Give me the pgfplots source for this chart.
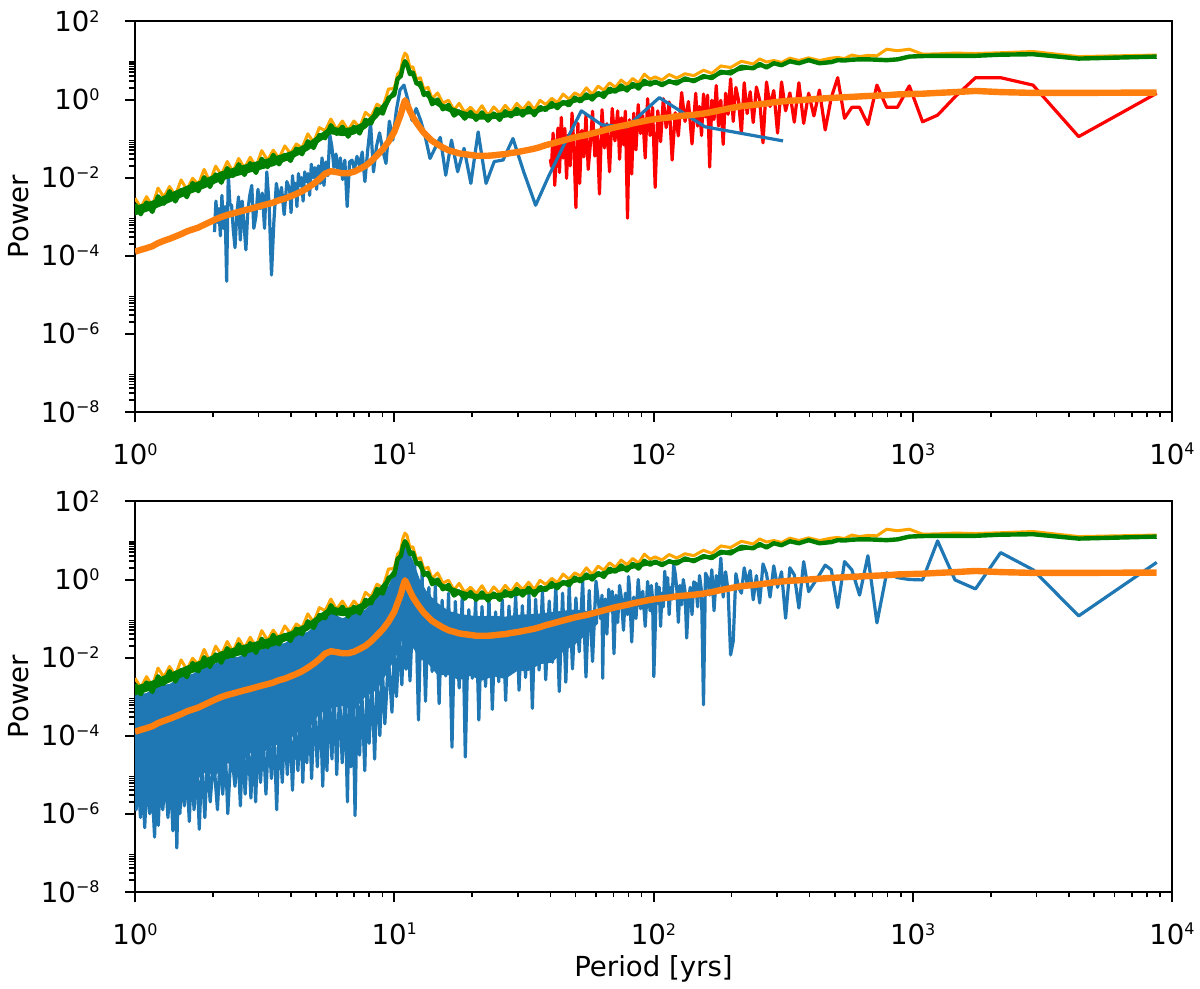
\documentclass[border=0pt]{standalone}
\usepackage{fontspec}
\setmainfont{DejaVu Sans}
\usepackage{pgfplots}
\pgfplotsset{compat=1.18}
\usepackage{pgfplotstable}
\definecolor{tabblue}{HTML}{1F77B4}
\definecolor{taborange}{HTML}{FF7F0E}
\definecolor{mplorange}{HTML}{FFA500}
\definecolor{mplgreen}{HTML}{008000}
\definecolor{mplred}{HTML}{FF0000}
\newcommand{\logtick}[1]{\pgfmathtruncatemacro\myexp{round(#1)}10\raisebox{4.6pt}{\fontsize{8}{8}\selectfont\ifnum\myexp<0 −\number-\myexp\else\myexp\fi}}

\pgfplotstableread{
x O G T
1.00 1.26e-4 2.09e-3 2.96e-3
1.053 1.41e-4 1.15e-3 1.70e-3
1.108 1.55e-4 2.29e-3 3.24e-3
1.166 1.74e-4 1.32e-3 1.86e-3
1.227 2.09e-4 3.31e-3 5.38e-3
1.292 2.40e-4 2.14e-3 3.16e-3
1.359 2.69e-4 4.47e-3 5.90e-3
1.431 3.09e-4 2.45e-3 3.47e-3
1.506 3.55e-4 4.79e-3 8.73e-3
1.585 4.17e-4 3.16e-3 4.91e-3
1.668 4.68e-4 7.24e-3 9.57e-3
1.756 5.25e-4 4.47e-3 6.61e-3
1.848 6.17e-4 1.02e-2 1.62e-2
1.945 7.24e-4 5.75e-3 7.77e-3
2.047 8.51e-4 1.20e-2 1.96e-2
2.154 9.77e-4 7.41e-3 1.17e-2
2.268 1.10e-3 1.74e-2 2.58e-2
2.387 1.20e-3 1.10e-2 1.41e-2
2.512 1.32e-3 2.19e-2 3.09e-2
2.644 1.45e-3 1.17e-2 1.74e-2
2.783 1.58e-3 2.34e-2 3.31e-2
2.929 1.74e-3 1.32e-2 1.86e-2
3.083 1.91e-3 3.02e-2 4.91e-2
3.245 2.09e-3 1.86e-2 2.76e-2
3.415 2.29e-3 3.80e-2 5.03e-2
3.594 2.63e-3 2.19e-2 3.09e-2
3.783 2.88e-3 3.80e-2 6.46e-2
3.981 3.31e-3 2.69e-2 4.08e-2
4.190 3.80e-3 5.50e-2 7.26e-2
4.410 4.47e-3 3.98e-2 5.76e-2
4.642 5.50e-3 8.51e-2 1.32e-1
4.885 6.92e-3 5.75e-2 7.96e-2
5.142 9.12e-3 1.23e-1 1.91e-1
5.412 1.26e-2 1.02e-1 1.59e-1
5.696 1.45e-2 2.19e-1 3.16e-1
5.995 1.38e-2 1.32e-1 1.70e-1
6.310 1.29e-2 2.00e-1 2.82e-1
6.641 1.29e-2 1.12e-1 1.62e-1
6.990 1.41e-2 2.00e-1 2.82e-1
7.356 1.66e-2 1.35e-1 1.91e-1
7.743 2.00e-2 3.02e-1 4.68e-1
8.149 2.63e-2 2.45e-1 3.55e-1
8.577 3.72e-2 5.75e-1 7.60e-1
9.027 5.25e-2 4.37e-1 6.18e-1
9.501 8.32e-2 1.10 1.86
10.0 1.48e-1 1.32 1.91
10.3 2.51e-1 3.39 4.47
10.6 4.17e-1 3.98 5.64
10.8 6.61e-1 7.08 11.5
11.0 9.55e-1 9.55 15.5
11.2 7.59e-1 7.94 13.5
11.5 5.01e-1 4.47 6.61
11.8 3.55e-1 4.90 6.93
12.2 2.51e-1 2.51 3.24
12.6 1.86e-1 2.63 3.63
13.0 1.41e-1 1.32 1.86
13.5 1.10e-1 1.48 2.05
14.0 8.71e-2 7.59e-1 1.05
14.7 7.08e-2 1.00 1.48
15.4 5.89e-2 5.62e-1 8.14e-1
16.2 5.01e-2 7.24e-1 9.57e-1
17.0 4.57e-2 3.89e-1 5.38e-1
17.8 4.17e-2 4.90e-1 7.96e-1
18.7 3.98e-2 3.24e-1 4.68e-1
19.7 3.80e-2 4.79e-1 6.33e-1
20.7 3.63e-2 3.02e-1 4.37e-1
21.8 3.63e-2 4.68e-1 6.93e-1
23.0 3.63e-2 2.88e-1 3.90e-1
24.2 3.72e-2 4.37e-1 6.46e-1
25.5 3.89e-2 3.02e-1 4.47e-1
26.8 3.98e-2 5.01e-1 7.10e-1
28.2 4.27e-2 3.72e-1 4.80e-1
29.7 4.47e-2 5.75e-1 7.96e-1
31.3 4.79e-2 3.89e-1 5.51e-1
33.0 5.13e-2 6.17e-1 8.52e-1
34.7 5.50e-2 3.98e-1 5.51e-1
36.5 6.03e-2 6.46e-1 9.57e-1
38.4 6.76e-2 5.37e-1 7.43e-1
40.5 7.41e-2 8.13e-1 1.07
42.6 8.13e-2 6.03e-1 8.33e-1
44.8 8.91e-2 8.71e-1 1.38
47.2 9.77e-2 7.08e-1 1.02
49.7 1.07e-1 1.12 1.48
52.3 1.15e-1 8.91e-1 1.23
55.1 1.23e-1 1.35 2.00
58.0 1.35e-1 1.00 1.35
61.1 1.48e-1 1.48 2.20
64.3 1.62e-1 1.17 1.74
67.7 1.78e-1 1.91 2.69
71.3 1.95e-1 1.58 2.05
75.0 2.09e-1 2.29 3.16
79.0 2.24e-1 1.70 2.40
83.2 2.45e-1 2.51 3.47
87.6 2.63e-1 1.91 2.63
92.2 2.82e-1 3.02 4.47
97.0 3.02e-1 2.40 3.31
101.5 3.16e-1 2.88 3.81
107.8 3.31e-1 2.34 3.16
114.9 3.47e-1 2.95 4.37
122.9 3.72e-1 2.57 3.55
132.3 3.89e-1 3.47 4.58
143.1 4.07e-1 2.95 4.08
155.9 4.37e-1 3.98 5.64
167.9 4.79e-1 3.55 4.68
181.9 5.37e-1 5.13 7.26
198.4 6.03e-1 4.68 6.61
218.3 6.76e-1 6.92 9.57
242.5 7.24e-1 6.31 8.14
256.8 7.59e-1 8.13 11.0
272.8 7.94e-1 6.61 9.13
291.0 8.51e-1 8.51 10.0
311.8 8.91e-1 7.59 8.91
335.8 9.33e-1 9.55 11.5
363.8 9.55e-1 8.51 10.0
396.8 1.00 10.2 11.7
436.5 1.05 8.51 10.0
485.0 1.10 9.12 11.5
513.5 1.12 10.2 12.0
545.6 1.15 10.0 11.2
582.0 1.17 10.5 13.8
623.6 1.20 10.7 12.6
671.5 1.23 10.7 13.5
727.5 1.26 10.5 13.2
793.6 1.29 10.2 19.5
873.0 1.35 10.7 17.8
970.0 1.38 12.6 19.5
1091 1.41 13.0 14.5
1247 1.48 13.2 14.8
1455 1.55 13.2 15.5
1746 1.66 13.2 15.1
2182 1.55 14.1 15.8
2910 1.48 14.5 17.0
4365 1.48 11.2 12.6
8730 1.51 12.6 13.8
}\shared

% green band (upper edge, then lower edge back)
\pgfplotstableread{
x y
1.00 1.86e-3
1.166 2.57e-3
1.359 3.98e-3
1.585 6.17e-3
1.848 9.12e-3
2.154 1.45e-2
2.512 1.95e-2
2.929 2.57e-2
3.415 3.39e-2
3.981 4.68e-2
4.642 7.76e-2
5.142 1.29e-1
5.696 2.04e-1
6.310 1.82e-1
6.990 2.00e-1
7.743 2.82e-1
8.577 5.25e-1
9.501 1.17
10.0 1.95
10.6 5.50
11.0 11.0
11.5 6.61
12.2 3.31
13.0 1.86
14.0 1.16
15.4 7.85e-1
17.0 6.10e-1
18.7 4.95e-1
20.7 4.32e-1
23.0 4.32e-1
25.5 4.62e-1
28.2 5.07e-1
31.3 5.69e-1
34.7 5.62e-1
38.4 6.92e-1
42.6 8.32e-1
47.2 1.00
52.3 1.17
58.0 1.38
64.3 1.66
71.3 2.00
79.0 2.29
87.6 2.69
97.0 3.09
107.8 2.88
122.9 3.24
143.1 3.55
167.9 4.37
198.4 5.89
242.5 7.41
291 8.32
291 7.59
242.5 6.17
198.4 4.90
167.9 3.63
143.1 2.95
122.9 2.69
107.8 2.40
97.0 2.34
87.6 2.04
79.0 1.74
71.3 1.51
64.3 1.26
58.0 1.05
52.3 8.91e-1
47.2 7.59e-1
42.6 6.31e-1
38.4 5.25e-1
34.7 4.27e-1
31.3 4.03e-1
28.2 3.59e-1
25.5 3.27e-1
23.0 3.05e-1
20.7 3.05e-1
18.7 3.51e-1
17.0 4.32e-1
15.4 5.56e-1
14.0 8.22e-1
13.0 1.35
12.2 2.40
11.5 4.79
11.0 7.94
10.6 3.98
10.0 1.41
9.501 7.41e-1
8.577 3.31e-1
7.743 1.78e-1
6.990 1.26e-1
6.310 1.15e-1
5.696 1.29e-1
5.142 8.13e-2
4.642 4.90e-2
3.981 2.95e-2
3.415 1.95e-2
2.929 1.48e-2
2.512 1.12e-2
2.154 8.32e-3
1.848 5.25e-3
1.585 3.55e-3
1.359 2.29e-3
1.166 1.48e-3
1.00 1.07e-3
}\gband

\begin{document}
\begin{tikzpicture}
\useasboundingbox (0,0) rectangle (600pt,494.5pt);
% ---------------- top panel ----------------
\begin{axis}[at={(67.5pt,288.65pt)}, anchor=south west,
    scale only axis, width=518.5pt, height=195.1pt,
    xmode=log, ymode=log, log basis x=10, log basis y=10,
    xmin=1, xmax=10000, ymin=1e-8, ymax=100,
    xtick={1,10,100,1000,10000},
    ytick={1e-8,1e-6,1e-4,1e-2,1,100},
    minor xtick={2,3,4,5,6,7,8,9,20,30,40,50,60,70,80,90,200,300,400,500,600,700,800,900,2000,3000,4000,5000,6000,7000,8000,9000},
    minor ytick={2e-8,3e-8,4e-8,5e-8,6e-8,7e-8,8e-8,9e-8,2e-6,3e-6,4e-6,5e-6,6e-6,7e-6,8e-6,9e-6,2e-4,3e-4,4e-4,5e-4,6e-4,7e-4,8e-4,9e-4,2e-2,3e-2,4e-2,5e-2,6e-2,7e-2,8e-2,9e-2,2,3,4,5,6,7,8,9},
    tick align=outside, tick pos=left,
    major tick length=5pt, minor tick length=2.9pt,
    major tick style={line width=1pt, black},
    minor tick style={line width=0.8pt, black},
    axis line style={line width=1pt},
    xticklabel={\logtick{\tick}}, yticklabel={\logtick{\tick}},
    tick label style={font=\fontsize{13.8}{16}\selectfont},
    xticklabel style={inner sep=0pt, anchor=north, yshift=-10.6pt},
    yticklabel style={inner sep=0pt, anchor=east, xshift=-12.5pt},
    ylabel={Power},
    ylabel style={font=\fontsize{13.8}{16}\selectfont, inner sep=0pt, at={(axis description cs:-0.1029,0.5)}, anchor=base},
    ]
\addplot[mplred, line width=1.6pt, line join=round] coordinates {
(8730,1.45) (4365,0.112) (2910,2.34) (2182.5,3.63) (1746,3.63) (1455,1.17) (1247,0.398) (1091,0.269) (970,2.24) (873,0.631) (793.6,0.631) (727.5,2.34) (671.5,0.229) (623.6,0.631) (582,0.631) (545.6,0.331) (513.5,3.63) (485,1.12) (459.5,0.166) (436.5,1.74) (415.7,0.380) (396.8,1.45) (379.6,0.245)
(363.8,2.69) (349.2,0.263) (335.8,1.48) (323.3,0.513) (311.8,2.82) (301,0.138) (291,1.70) (281.6,0.661) (272.8,2.82) (264.5,0.0776) (256.8,0.955) (249.4,2.09) (242.5,0.257) (236,1.58) (229.7,0.437) (223.8,2.69) (218.3,0.135) (212.9,0.933) (207.9,2.04) (203,0.275) (198.4,3.39) (194,0.417) (189.8,1.45) (185.7,0.0708) (181.9,0.955) (178.2,0.209) (174.6,2.29) (171.2,0.309) (167.9,0.955) (164.7,0.0186) (161.7,1.29) (158.7,0.355) (155.9,1.38) (153.2,0.120) (150.5,0.661) (148,0.209) (145.5,1.45)
(140.8,0.0724) (136.4,0.891) (132.3,0.275) (128.4,1.51) (124.7,0.117) (121.3,0.457) (118,0.0282) (114.9,0.871) (111.9,0.191) (109.1,1.05) (106.5,0.0832) (103.9,0.513) (101.5,0.00562) (99.2,0.617) (97.0,0.120) (94.9,1.05) (92.9,0.0316) (90.9,0.389) (89.1,0.135) (87.3,0.741) (85.6,0.0513) (83.9,0.447) (82.4,0.0123) (80.8,0.302) (79.4,0.000912) (77.9,0.501) (76.6,0.0692) (75.3,0.339) (74.0,0.0295) (72.75,0.513)
(71.0,0.0871) (69.3,0.589) (67.7,0.0141) (66.1,0.240) (64.7,0.0575) (63.3,0.55) (61.9,0.0038) (60.6,0.162) (59.4,0.0355) (58.2,0.50) (57.1,0.0741) (56.0,0.0162) (54.9,0.40) (53.9,0.0339) (52.9,0.162) (51.9,0.00708) (51.1,0.245) (50.2,0.0017) (49.3,0.0661) (48.5,0.45) (47.7,0.02) (46.9,0.123) (46.2,0.00955) (45.5,0.182) (44.8,0.0316) (44.1,0.35) (43.4,0.0135) (42.8,0.186) (42.2,0.0407) (41.6,0.00631) (41.0,0.138) (40.4,0.0191) (40.0,0.0295)
};
\addplot[tabblue, line width=1.6pt, line join=round] coordinates {
(316,8.7e-2) (158,2.0e-1) (105.3,1.12) (79.0,2.0e-1) (63.2,2.24e-1) (52.7,5.13e-1) (45.1,6.76e-2) (39.5,1.12e-2) (35.1,1.95e-3) (31.6,1.38e-2) (28.7,1.0e-1) (26.3,2.82e-2) (24.3,2.57e-2) (22.6,7.08e-3) (21.07,1.48e-1) (19.75,7.08e-3) (18.59,5.62e-2) (17.56,1.41e-2) (16.63,9.12e-2) (15.80,1.15e-2) (15.05,1.07e-1) (14.36,5.62e-2) (13.74,3.09e-2) (13.17,1.12e-1) (12.64,2.95e-1) (12.15,5.89e-1) (11.70,2.95e-1) (11.29,9.77e-1) (10.90,2.34) (10.53,1.78) (10.19,5.37e-1)
(9.875,9.1e-2) (9.576,2.8e-1) (9.294,2.3e-2) (9.029,5.0e-2) (8.778,1.4e-1) (8.541,6.3e-2) (8.316,1.4e-2) (8.103,2.5e-1) (7.900,5.0e-2) (7.707,7.9e-3) (7.524,4.5e-2) (7.349,2.0e-2) (7.182,3.5e-2) (7.022,1.6e-2) (6.870,2.8e-2) (6.723,2.5e-2) (6.583,1.8e-3) (6.449,2.8e-2) (6.320,8.9e-3) (6.196,3.2e-2) (6.077,1.26e-2) (5.962,4.0e-2) (5.852,1.8e-2) (5.745,6.3e-2) (5.643,1.23e-1) (5.544,1.12e-2) (5.448,2.5e-2) (5.356,6.3e-3) (5.267,3.2e-2)
(5.180,7.1e-3) (5.097,2.0e-2) (5.016,5.0e-3) (4.938,1.8e-2) (4.862,1.0e-2) (4.788,2.2e-2) (4.716,3.5e-3) (4.647,1.26e-2) (4.580,7.9e-3) (4.514,1.4e-2) (4.451,2.5e-3) (4.389,1.0e-2) (4.329,6.3e-3) (4.270,1.26e-2) (4.213,1.8e-3) (4.158,7.1e-3) (4.104,4.0e-3) (4.051,1.12e-2) (4.000,1.26e-3) (3.950,5.0e-3)
(3.854,7.9e-3) (3.762,1.12e-3) (3.674,5.6e-3) (3.591,2.5e-3) (3.511,7.1e-3) (3.435,7.9e-4) (3.362,3.2e-5) (3.292,2.0e-3) (3.224,1.4e-2) (3.160,5.0e-4) (3.098,4.0e-3) (3.038,1.6e-3) (2.981,5.0e-3) (2.926,1.0e-3) (2.873,5.0e-4) (2.821,6.3e-3) (2.772,3.5e-3) (2.724,1.4e-3) (2.678,1.4e-4) (2.633,6.3e-4) (2.590,2.5e-3) (2.548,2.5e-4) (2.508,3.2e-3) (2.469,1.12e-3) (2.431,1.6e-4) (2.394,4.5e-4) (2.358,2.0e-3) (2.324,2.0e-3) (2.290,1.26e-2) (2.257,2.2e-5) (2.225,1.8e-3) (2.194,5.0e-4) (2.164,3.5e-3) (2.135,3.2e-4) (2.107,1.6e-3) (2.079,7.1e-4) (2.052,2.5e-3) (2.026,4.0e-4)
};
\addplot[mplorange, line width=1.5pt, line join=round] table[x=x, y=T] {\shared};
\addplot[draw=none, fill=mplgreen] table[x=x, y=y] {\gband} -- cycle;
\addplot[mplgreen, line width=2.2pt, line join=round] table[x=x, y=G] {\shared};
\addplot[taborange, line width=3.2pt, line join=round] table[x=x, y=O] {\shared};
\end{axis}
% ---------------- bottom panel ----------------
\begin{axis}[at={(67.5pt,48.65pt)}, anchor=south west,
    scale only axis, width=518.5pt, height=195.1pt,
    xmode=log, ymode=log, log basis x=10, log basis y=10,
    xmin=1, xmax=10000, ymin=1e-8, ymax=100,
    xtick={1,10,100,1000,10000},
    ytick={1e-8,1e-6,1e-4,1e-2,1,100},
    minor xtick={2,3,4,5,6,7,8,9,20,30,40,50,60,70,80,90,200,300,400,500,600,700,800,900,2000,3000,4000,5000,6000,7000,8000,9000},
    minor ytick={2e-8,3e-8,4e-8,5e-8,6e-8,7e-8,8e-8,9e-8,2e-6,3e-6,4e-6,5e-6,6e-6,7e-6,8e-6,9e-6,2e-4,3e-4,4e-4,5e-4,6e-4,7e-4,8e-4,9e-4,2e-2,3e-2,4e-2,5e-2,6e-2,7e-2,8e-2,9e-2,2,3,4,5,6,7,8,9},
    tick align=outside, tick pos=left,
    major tick length=5pt, minor tick length=2.9pt,
    major tick style={line width=1pt, black},
    minor tick style={line width=0.8pt, black},
    axis line style={line width=1pt},
    xticklabel={\logtick{\tick}}, yticklabel={\logtick{\tick}},
    tick label style={font=\fontsize{13.8}{16}\selectfont},
    xticklabel style={inner sep=0pt, anchor=north, yshift=-10.6pt},
    yticklabel style={inner sep=0pt, anchor=east, xshift=-12.5pt},
    ylabel={Power},
    ylabel style={font=\fontsize{13.8}{16}\selectfont, inner sep=0pt, at={(axis description cs:-0.1029,0.5)}, anchor=base},
    xlabel={Period [yrs]},
    xlabel style={font=\fontsize{13.8}{16}\selectfont, inner sep=0pt, at={(axis description cs:0.5,-0.2186)}, anchor=base},
    ]
\addplot[draw=none, fill=tabblue] coordinates {
(1.0,1.12e-3) (1.108,1.23e-3) (1.227,2.0e-3) (1.359,2.09e-3) (1.506,3.31e-3) (1.668,3.80e-3) (1.848,6.17e-3) (2.047,7.08e-3) (2.268,1.02e-2) (2.512,1.05e-2) (2.783,1.55e-2) (3.083,1.62e-2) (3.415,2.19e-2) (3.783,2.34e-2) (4.19,3.80e-2) (4.642,4.57e-2) (5.142,8.51e-2) (5.696,1.41e-1) (6.31,1.02e-1) (6.99,1.35e-1) (7.743,1.70e-1) (8.577,3.63e-1) (9.501,6.92e-1) (10.3,2.34) (10.8,5.89) (11.0,7.08) (11.2,6.31) (11.8,3.16) (12.6,9.33e-1) (13.5,4.37e-1) (14.7,2.51e-1) (16.2,1.58e-1) (17.8,1.32e-1) (19.7,1.20e-1) (21.8,1.15e-1) (24.2,1.17e-1) (26.8,1.12e-1) (29.7,1.26e-1) (33.0,1.29e-1) (36.5,1.35e-1) (40.5,1.48e-1) (44.8,1.58e-1) (49.7,1.70e-1) (55.1,1.55e-1) (61.1,1.48e-1)
(61.1,7.41e-2) (55.1,3.89e-2) (49.7,2.14e-2) (44.8,1.41e-2) (40.5,7.41e-3) (36.5,6.76e-3) (33.0,4.57e-3) (29.7,4.47e-3) (26.8,2.82e-3) (24.2,3.31e-3) (21.8,2.57e-3) (19.7,3.39e-3) (17.8,2.63e-3) (16.2,3.55e-3) (14.7,3.55e-3) (13.5,6.92e-3) (12.6,9.33e-3) (11.8,1.78e-2) (11.2,3.80e-2) (11.0,4.79e-2) (10.8,3.31e-2) (10.3,1.26e-2) (9.501,4.68e-3) (8.577,1.48e-3) (7.743,1.0e-3) (6.99,4.47e-4) (6.31,5.75e-4) (5.696,5.13e-4) (5.142,3.63e-4) (4.642,1.38e-4) (4.19,1.20e-4) (3.783,5.75e-5) (3.415,5.75e-5) (3.083,3.39e-5) (2.783,3.55e-5) (2.512,1.66e-5) (2.268,1.95e-5) (2.047,9.55e-6) (1.848,1.10e-5) (1.668,5.89e-6) (1.506,7.08e-6) (1.359,3.39e-6) (1.227,3.72e-6) (1.108,1.95e-6) (1.0,2.82e-6)
} -- cycle;
\addplot[tabblue, line width=1.6pt, line join=round] coordinates {
(8730,2.75) (4365,1.17e-1) (2910,1.78) (2182.5,4.90) (1746,5.75e-1) (1455,9.77e-1) (1247,9.77) (1091,9.77e-1) (970,1.0) (873,1.12) (793.6,1.48) (727.5,7.76e-2) (671.5,4.07) (623.6,3.98e-1) (582,1.78) (545.6,2.88) (513.5,1.91e-1) (485,1.78) (459.5,2.34) (436.5,1.32) (415.7,7.94e-1) (396.8,4.90e-1) (379.6,2.88) (363.8,1.86e-1) (349.2,1.32) (335.8,2.00) (323.3,1.02e-1) (311.8,1.58) (301,6.31e-1) (291,2.24)
(281.6,3.55e-1) (272.8,1.41) (264.5,2.51) (256.8,2.51e-1) (249.4,1.26) (242.5,3.02e-1) (236,1.70) (229.7,7.94e-1) (223.8,2.00) (218.3,4.47e-1) (212.9,6.31e-1) (207.9,1.41) (203,2.63e-2) (198.4,1.17e-2) (194,5.01e-1) (189.8,1.58) (185.7,3.55e-1) (181.9,3.55) (178.2,5.62e-1) (174.6,1.26) (171.2,1.58e-1) (167.9,1.78) (164.7,3.98e-1) (161.7,1.12) (158.7,1.45) (155.9,6.17e-4) (153.2,5.01e-1) (150.5,1.26) (148,2.00e-1) (145.5,7.94e-1)
(143.1,8.71e-1) (140.8,1.26e-1) (138.6,6.31e-1) (136.4,2.82e-1) (134.3,3.16e-2) (132.3,5.01e-1) (130.3,1.00) (128.4,2.24e-1) (126.5,7.08e-1) (124.7,7.94e-2) (123,5.62e-1) (121.3,1.41) (119.6,2.40) (118,3.16e-1) (116.4,6.31e-1) (114.9,1.26e-1) (113.4,1.12) (111.9,3.98e-1) (110.5,1.62) (109.1,2.00e-1) (107.8,4.47e-1) (106.5,6.31e-2) (105.2,6.31e-1) (103.9,2.51e-1) (102.7,7.94e-1) (101.5,5.01e-2) (100.3,3.24e-3) (99.2,3.16e-1) (98.1,7.08e-1) (97.0,1.58e-1)
(94.9,8.91e-1) (92.9,6.31e-2) (90.9,5.01e-1) (89.1,1.78e-1) (87.3,1.00) (85.6,1.00e-1) (83.9,3.55e-1) (82.4,2.51e-2) (80.8,6.31e-1) (80.1,1.20) (79.4,1.26e-1) (77.9,4.47e-1) (76.6,5.01e-2) (75.3,3.16e-1) (74.0,7.08e-1) (72.75,7.94e-2) (71.6,3.98e-1) (70.4,1.26e-2) (69.3,5.01e-1) (68.2,1.58e-1) (67.2,5.62e-1) (66.1,3.98e-2) (65.1,3.16e-1) (64.2,1.26e-1) (63.7,2.95e-3) (63.3,3.98e-1) (62.4,1.00e-1)
(60.0,9.12e-1) (58.2,7.94e-3) (56.5,5.25e-1) (54.9,3.16e-3) (53.3,9.33e-1) (51.7,1.41e-2) (50.2,3.39e-1) (48.7,5.13e-3) (47.3,6.92e-1) (45.9,2.34e-3) (44.6,4.47e-1) (43.3,1.35e-3) (42.0,7.08e-1) (40.8,7.59e-3) (39.6,2.82e-1) (38.4,2.69e-3) (37.3,5.01e-1) (36.2,4.79e-3) (35.1,3.16e-1) (34.1,5.01e-4) (33.1,4.07e-1) (32.1,3.09e-3) (31.2,2.14e-1) (30.3,1.45e-3) (29.4,3.98e-1) (28.5,4.27e-3) (27.7,2.09e-1) (26.9,7.94e-4) (26.1,3.09e-1) (25.3,2.40e-3) (24.6,1.48e-1) (23.9,4.68e-4) (23.2,3.24e-1) (22.5,1.82e-3) (21.8,2.04e-1) (21.2,2.51e-4) (20.6,2.88e-1) (20.0,2.95e-3) (19.4,1.70e-1) (18.8,2.82e-5) (18.3,3.98e-1) (17.8,1.66e-3) (17.2,2.75e-1) (16.7,5.01e-5) (16.2,4.47e-1) (15.8,3.39e-3) (15.3,2.95e-1) (14.9,6.61e-4) (14.4,6.76e-1) (14.0,4.37e-3) (13.6,6.31e-1) (13.2,7.59e-4) (12.8,1.58) (12.4,2.51e-4) (12.0,2.24)
(11.7,3.98e-2) (11.5,2.51e-3) (11.3,7.94e-2) (11.1,5.01e-3) (10.9,7.94e-2) (10.7,2.0e-3) (10.45,3.16e-2) (10.2,1.0e-3) (10.0,1.58e-2) (9.8,3.98e-4) (9.5,1.0e-2) (9.2,2.0e-4) (9.0,5.01e-3) (8.8,1.0e-4) (8.6,3.16e-3) (8.4,2.51e-5) (8.2,2.51e-3) (8.0,6.31e-5) (7.85,2.0e-3) (7.7,1.26e-5) (7.5,1.26e-3) (7.35,3.16e-5) (7.2,1.12e-3) (7.06,8.91e-7) (6.93,1.12e-3) (6.8,1.58e-5) (6.7,1.12e-3) (6.6,2.0e-6) (6.45,1.26e-3) (6.3,2.0e-5) (6.15,1.26e-3) (6.0,1.0e-5) (5.87,1.26e-3) (5.75,2.51e-5) (5.62,1.26e-3) (5.5,1.26e-5) (5.4,1.12e-3) (5.3,5.01e-6) (5.17,8.91e-4) (5.05,1.58e-5) (4.92,6.31e-4) (4.8,7.94e-6) (4.7,5.01e-4) (4.6,2.0e-5) (4.52,3.98e-4) (4.44,6.31e-6) (4.35,3.16e-4) (4.25,1.26e-5) (4.15,2.82e-4) (4.05,3.98e-6) (3.96,2.51e-4) (3.87,1.0e-5) (3.78,2.0e-4) (3.7,6.31e-6) (3.6,1.58e-4) (3.52,1.26e-6) (3.44,1.41e-4) (3.36,7.94e-6) (3.28,1.26e-4) (3.2,3.16e-6) (3.12,1.0e-4) (3.05,6.31e-6) (2.98,1.0e-4) (2.92,2.0e-6) (2.86,8.91e-5) (2.8,2.51e-6) (2.73,7.94e-5) (2.66,3.16e-6) (2.6,6.31e-5) (2.55,1.58e-6) (2.49,5.01e-5) (2.43,5.01e-6) (2.35,5.01e-5) (2.28,1.0e-6) (2.23,4.47e-5) (2.18,3.16e-6) (2.13,3.16e-5) (2.08,1.26e-6) (2.01,2.82e-5) (1.95,2.0e-6) (1.9,2.51e-5) (1.86,7.94e-7) (1.81,2.24e-5) (1.77,3.98e-7) (1.73,2.0e-5) (1.69,1.26e-6) (1.65,1.78e-5) (1.62,6.31e-7) (1.58,1.58e-5) (1.55,1.58e-6) (1.52,1.41e-5) (1.49,1.0e-6) (1.47,1.26e-5) (1.45,1.32e-7) (1.43,1.12e-5) (1.40,3.63e-7) (1.37,1.0e-5) (1.34,7.94e-7) (1.31,8.91e-6) (1.28,1.26e-6) (1.25,7.94e-6) (1.23,5.01e-7) (1.21,7.94e-6) (1.19,2.51e-7) (1.16,7.08e-6) (1.14,1.0e-6) (1.11,6.31e-6) (1.09,4.37e-7) (1.07,6.31e-6) (1.05,7.94e-7) (1.03,6.31e-6) (1.01,1.26e-6) (1.0,6.31e-6)
};
\addplot[mplorange, line width=1.5pt, line join=round] table[x=x, y=T] {\shared};
\addplot[draw=none, fill=mplgreen] table[x=x, y=y] {\gband} -- cycle;
\addplot[mplgreen, line width=2.2pt, line join=round] table[x=x, y=G] {\shared};
\addplot[taborange, line width=3.2pt, line join=round] table[x=x, y=O] {\shared};
\end{axis}
\end{tikzpicture}
\end{document}
